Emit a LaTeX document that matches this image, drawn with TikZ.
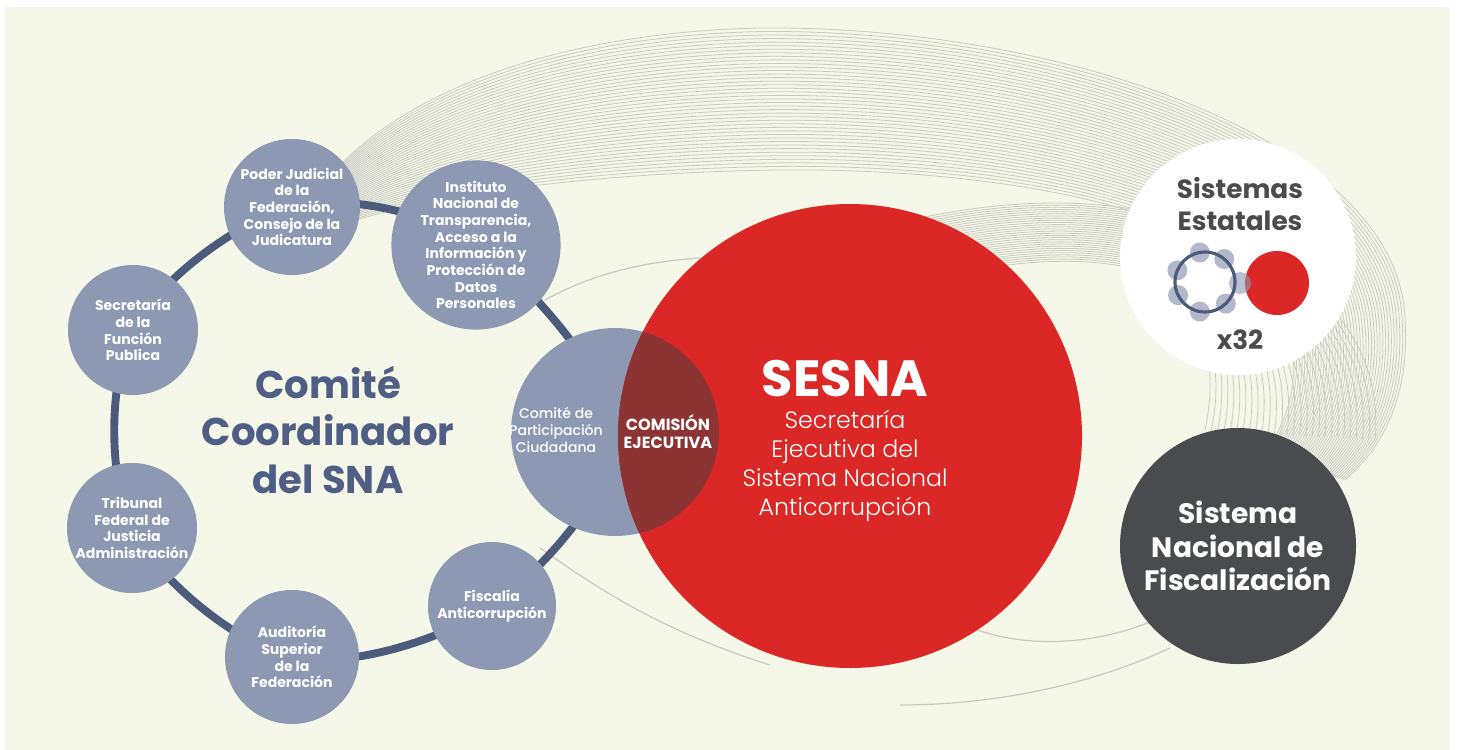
\documentclass[tikz,border=0pt]{standalone}
\usepackage{fontspec}
\setmainfont{Poppins}
\newfontfamily\lightfont{Poppins Light}
\newfontfamily\medfont{Poppins Medium}
\usetikzlibrary{calc}

\definecolor{cream}{HTML}{F5F7E8}
\definecolor{slate}{HTML}{8D99B3}
\definecolor{ringblue}{HTML}{4B5B7C}
\definecolor{sesnared}{HTML}{DB2826}
\definecolor{overlap}{HTML}{8C3333}
\definecolor{darkgray}{HTML}{4A4B4F}
\definecolor{titleblue}{HTML}{4E5E84}
\definecolor{textgray}{HTML}{4B4B4D}
\definecolor{linegray}{HTML}{C9CAC2}

\pgfdeclarelayer{back}
\pgfdeclarelayer{ring}
\pgfsetlayers{back,ring,main}

\begin{document}
\begin{tikzpicture}[
  x=0.02cm, y=0.02cm,
  member/.style={circle, fill=slate, text=white, align=center, inner sep=0pt,
                 font=\bfseries\fontsize{8}{9.5}\selectfont, minimum size=#1*0.02cm},
  bigdisc/.style={circle, inner sep=0pt, minimum size=#1*0.02cm},
  ringline/.style={draw=ringblue, line width=4.5pt},
  bgline/.style={draw=linegray, line width=0.45pt},
  title/.style={text=titleblue, align=center, font=\bfseries\fontsize{22}{27}\selectfont},
  graytext/.style={text=textgray, align=center, font=\bfseries\fontsize{15}{18}\selectfont}
]
\useasboundingbox (0,0) rectangle (1457,-750);

% background
\begin{pgfonlayer}{back}
\fill[white] (0,0) rectangle (1457,-750);
\fill[cream] (5,-7) rectangle (1450,-750);
% outer band of lines
\coordinate (ao0) at (335,-170);  \coordinate (ai0) at (350,-222);
\coordinate (ao1) at (420,-80);   \coordinate (ai1) at (450,-190);
\coordinate (ao2) at (580,-32);   \coordinate (ai2) at (620,-172);
\coordinate (ao3) at (760,-28);   \coordinate (ai3) at (780,-170);
\coordinate (ao4) at (1060,-25);  \coordinate (ai4) at (1000,-168);
\coordinate (ao5) at (1400,-140); \coordinate (ai5) at (1260,-210);
\coordinate (ao6) at (1405,-320); \coordinate (ai6) at (1290,-330);
\coordinate (ao7) at (1410,-400); \coordinate (ai7) at (1300,-380);
\coordinate (ao8) at (1380,-450); \coordinate (ai8) at (1290,-420);
\coordinate (ao9) at (1345,-480); \coordinate (ai9) at (1260,-460);
\foreach \t in {0,0.025,...,1.001}
  \draw[bgline] ($(ao0)!\t!(ai0)$) .. controls ($(ao1)!\t!(ai1)$) and ($(ao2)!\t!(ai2)$) .. ($(ao3)!\t!(ai3)$)
    .. controls ($(ao4)!\t!(ai4)$) and ($(ao5)!\t!(ai5)$) .. ($(ao6)!\t!(ai6)$)
    .. controls ($(ao7)!\t!(ai7)$) and ($(ao8)!\t!(ai8)$) .. ($(ao9)!\t!(ai9)$);
% inner band round the red disc
\coordinate (bo0) at (870,-230);  \coordinate (bi0) at (900,-290);
\coordinate (bo1) at (980,-200);  \coordinate (bi1) at (1000,-260);
\coordinate (bo2) at (1080,-195); \coordinate (bi2) at (1090,-255);
\coordinate (bo3) at (1160,-215); \coordinate (bi3) at (1150,-275);
\coordinate (bo4) at (1300,-250); \coordinate (bi4) at (1200,-310);
\coordinate (bo5) at (1385,-330); \coordinate (bi5) at (1215,-360);
\coordinate (bo6) at (1375,-440); \coordinate (bi6) at (1200,-430);
\foreach \t in {0,0.036,...,1.001}
  \draw[bgline] ($(bo0)!\t!(bi0)$) .. controls ($(bo1)!\t!(bi1)$) and ($(bo2)!\t!(bi2)$) .. ($(bo3)!\t!(bi3)$)
    .. controls ($(bo4)!\t!(bi4)$) and ($(bo5)!\t!(bi5)$) .. ($(bo6)!\t!(bi6)$);
% single lines
\draw[bgline, line width=0.7pt] (545,-300) .. controls (590,-275) and (640,-262) .. (700,-258);
\draw[bgline, line width=0.7pt] (540,-548) .. controls (600,-590) and (660,-630) .. (770,-665);
\draw[bgline, line width=0.7pt] (945,-615) .. controls (1000,-648) and (1080,-650) .. (1150,-622);
\draw[bgline, line width=0.7pt] (900,-705) .. controls (980,-705) and (1080,-690) .. (1170,-648);
\end{pgfonlayer}

% members of the committee
\node[member=136] (pjf) at (292,-207) {Poder Judicial\\de la\\Federación,\\Consejo de la\\Judicatura};
\node[member=146] (inai) at (476,-245) {Instituto\\Nacional de\\Transparencia,\\Acceso a la\\Información y\\Protección de\\Datos\\Personales};
\node[member=130] (sfp) at (133,-330) {Secretaría\\de la\\Función\\Publica};
\node[member=130] (tfja) at (132,-528) {Tribunal\\Federal de\\Justicia\\Administración};
\node[member=134] (asf) at (292,-657) {Auditoría\\Superior\\de la\\Federación};
\node[member=128] (fisc) at (492,-606) {Fiscalía\\Anticorrupción};
\node[member=208] (cpc) at (615,-432) {};
\node[bigdisc=464, fill=sesnared] (sesna) at (850,-436) {};

\begin{pgfonlayer}{ring}
\draw[ringline] plot[smooth cycle, tension=0.55] coordinates
  {(pjf.center) (inai.center) (cpc.center) (fisc.center) (asf.center) (tfja.center) (sfp.center)};
\end{pgfonlayer}

% executive commission
\begin{scope}
\clip (cpc.center) circle[radius=104];
\fill[overlap] (sesna.center) circle[radius=232];
\end{scope}
\node[text=white, align=center, font=\medfont\fontsize{8}{9.5}\selectfont] (cpct) at (556,-430) {Comité de\\Participación\\Ciudadana};
\node[text=white, align=center, font=\bfseries\fontsize{9.2}{10.4}\selectfont] (ce) at (668,-432) {COMISIÓN\\EJECUTIVA};

\node[title] (cc) at (328,-430) {Comité\\Coordinador\\del SNA};

\node[text=white, inner sep=0pt, font=\bfseries\fontsize{29}{30}\selectfont] (sesnat) at (845,-379) {SESNA};
\node[text=white, align=center, inner sep=0pt, font=\lightfont\fontsize{13.5}{16.4}\selectfont] (sesnas) at (845,-466) {Secretaría\\Ejecutiva del\\Sistema Nacional\\Anticorrupción};

% state systems
\node[bigdisc=236, fill=white] (sest) at (1238,-257) {};
\node[graytext] (sestt) at (1240,-204) {Sistemas\\Estatales};
\foreach \a in {100,50,314,260,206,157}
  \fill[slate!80, opacity=0.85] ($(1205,-282)+(\a:30)$) circle[radius=10];
\fill[sesnared] (1277,-283) circle[radius=32];
\fill[slate, opacity=0.6] (1240,-283) circle[radius=11];
\draw[ringblue, line width=1.8pt] (1205,-282) circle[radius=30];
\node[graytext] (x32) at (1240,-340) {x32};

% audit system
\node[bigdisc=236, fill=darkgray, text=white, align=center,
      font=\bfseries\fontsize{16}{19}\selectfont] (snf) at (1238,-546) {Sistema\\Nacional de\\Fiscalización};
\end{tikzpicture}
\end{document}
